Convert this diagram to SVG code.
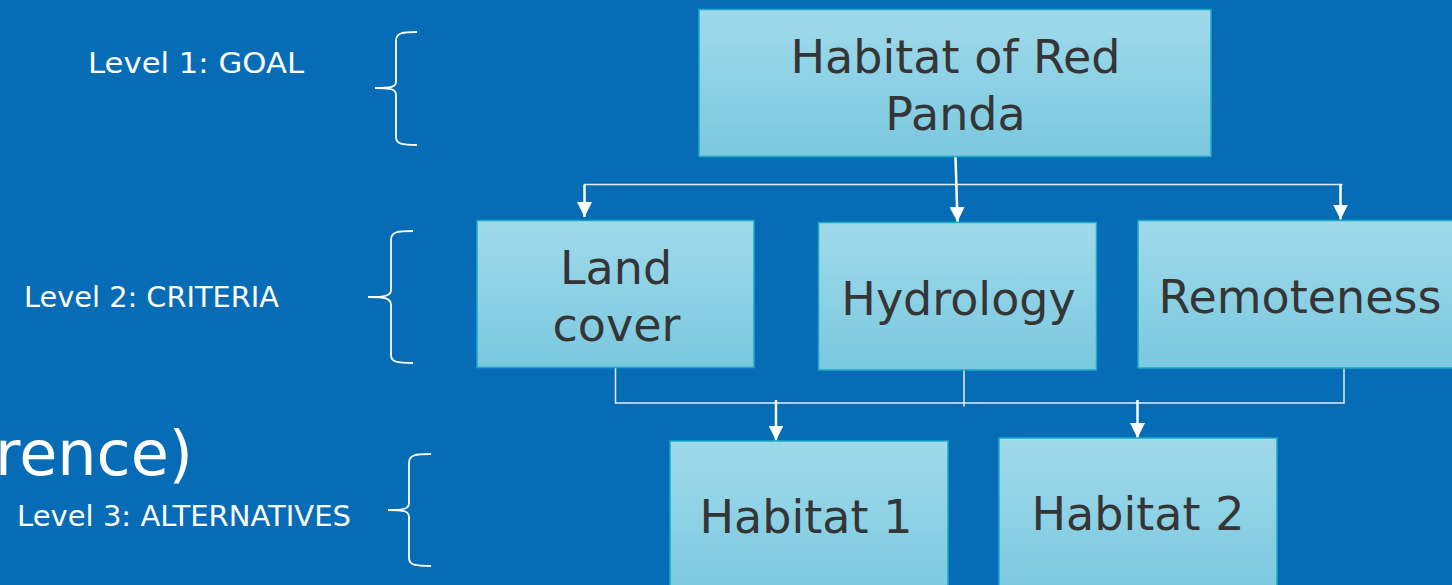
<svg xmlns="http://www.w3.org/2000/svg" width="1452" height="585" viewBox="0 0 1452 585">
<defs>
<linearGradient id="boxg" x1="0" y1="0" x2="0" y2="1">
<stop offset="0" stop-color="#A0DAEB"/>
<stop offset="1" stop-color="#7AC8DF"/>
</linearGradient>
<marker id="ah" viewBox="0 0 10 10" refX="10" refY="5" markerWidth="15" markerHeight="15" markerUnits="userSpaceOnUse" orient="auto">
<path d="M0,0 L10,5 L0,10 Z" fill="#FFFFFF"/>
</marker>
<style>
.box{fill:url(#boxg);stroke:#1BA9C6;stroke-width:1.5}
.bt{font-family:"DejaVu Sans",sans-serif;font-size:46px;fill:#353535;text-anchor:middle}
.lv{font-family:"DejaVu Sans",sans-serif;font-size:28px;fill:#FFFFFF}
.arr{stroke:#FFFFFF;stroke-width:2.5;fill:none;marker-end:url(#ah)}
.ln{stroke:#E4ECF4;stroke-width:1.5;fill:none}
.br{stroke:#FFFFFF;stroke-width:1.8;fill:none}
</style>
</defs>
<rect x="0" y="0" width="1452" height="585" fill="#066CB5"/>

<text x="193" y="475" font-family="DejaVu Sans, sans-serif" font-size="62" fill="#FFFFFF" text-anchor="end">rence)</text>

<g id="labels">
<text class="lv" x="88" y="73" textLength="216" lengthAdjust="spacingAndGlyphs">Level 1: GOAL</text>
<text class="lv" x="24" y="307" textLength="255" lengthAdjust="spacingAndGlyphs">Level 2: CRITERIA</text>
<text class="lv" x="17" y="526" textLength="334" lengthAdjust="spacingAndGlyphs">Level 3: ALTERNATIVES</text>
</g>

<g id="brackets">
<path class="br" d="M417,32 C402,32 396,33 396,41 L396,82 C396,87 391,88 375,88 C391,88 396,89 396,95 L396,137 C396,144 402,145 417,145"/>
<path class="br" d="M413,231 C397,231 391,232 391,240 L391,290 C391,296 385,297 368,297 C385,297 391,298 391,305 L391,355 C391,362 397,363 413,363"/>
<path class="br" d="M431,454 C415,454 409,455 409,463 L409,503 C409,509 404,510 388,510 C404,510 409,511 409,517 L409,558 C409,565 415,566 431,566"/>
</g>

<g id="connectors">
<line class="arr" x1="955.5" y1="157" x2="957.5" y2="222"/>
<path class="ln" d="M584,184.5 L1342.5,184.5"/>
<line class="arr" x1="584.5" y1="184.5" x2="584.5" y2="217"/>
<line class="arr" x1="1340.5" y1="185" x2="1340.5" y2="219.5"/>
<path class="ln" d="M615.5,367.5 L615.5,403 L1344,403 L1344,368"/>
<line class="ln" x1="964" y1="370" x2="964" y2="406.5"/>
<line class="arr" x1="776" y1="400" x2="776" y2="440.5"/>
<line class="arr" x1="1137.5" y1="400" x2="1137.5" y2="438"/>
</g>

<g id="goal">
<rect class="box" x="699" y="9.5" width="512" height="147"/>
<text class="bt" x="955.5" y="73">Habitat of Red</text>
<text class="bt" x="955.5" y="130">Panda</text>
</g>

<g id="landcover">
<rect class="box" x="477" y="220.5" width="277" height="147"/>
<text class="bt" x="616" y="284">Land</text>
<text class="bt" x="616.5" y="341">cover</text>
</g>

<g id="hydrology">
<rect class="box" x="818.5" y="222.5" width="278" height="147.5"/>
<text class="bt" x="958.5" y="315">Hydrology</text>
</g>

<g id="remoteness">
<rect class="box" x="1138" y="220.5" width="320" height="147.5"/>
<text class="bt" x="1300" y="313">Remoteness</text>
</g>

<g id="habitat1">
<rect class="box" x="670" y="441" width="278" height="160"/>
<text class="bt" x="806" y="533">Habitat 1</text>
</g>

<g id="habitat2">
<rect class="box" x="999" y="438" width="278" height="160"/>
<text class="bt" x="1138" y="530">Habitat 2</text>
</g>
</svg>
